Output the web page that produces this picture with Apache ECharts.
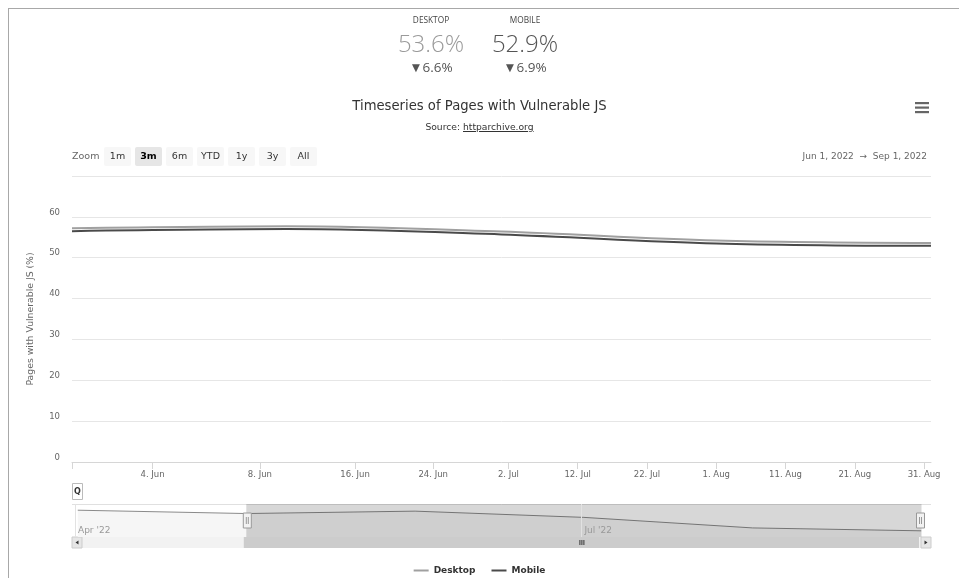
<!DOCTYPE html>
<html>
<head>
<meta charset="utf-8">
<title>Timeseries of Pages with Vulnerable JS</title>
<script src="https://cdn.jsdelivr.net/npm/echarts@6.0.0/dist/echarts.min.js"></script>
<style>
  html, body { margin: 0; padding: 0; background: #fff; }
  #c { position: absolute; left: 0; top: 0; width: 959px; height: 578px; }
  #frame { position: absolute; left: 8px; top: 8px; width: 951px; height: 570px; border-top: 1px solid #a8a8a8; border-left: 1px solid #a8a8a8; box-sizing: border-box; pointer-events: none; }
  #sub { position: absolute; left: 0; top: 121px; width: 959px; text-align: center; font-family: "DejaVu Sans", sans-serif; font-size: 9.2px; color: #333; }
  #sub u { color: #333; }
</style>
</head>
<body>
<div id="c"></div>
<div id="frame"></div>
<div id="sub">Source: <u>httparchive.org</u></div>
<script>
// ---- data ----
const dates = ['2022-04-01', '2022-06-01', '2022-06-09', '2022-07-01', '2022-08-01', '2022-09-01'];
const desktop = [57.9, 57.2, 57.7, 56.4, 54.2, 53.6];
const mobile = [57.2, 56.5, 57.0, 55.7, 53.5, 52.9];
const seriesNames = ['Desktop', 'Mobile'];
const xTickDates = ['2022-06-04', '2022-06-08', '2022-06-16', '2022-06-24', '2022-07-02', '2022-07-12', '2022-07-22', '2022-08-01', '2022-08-11', '2022-08-21', '2022-08-31'];
const navTickDates = ['2022-04-01', '2022-07-01'];
const viewStart = '2022-06-01';
const viewEnd = '2022-09-01';
const kpiLabels = ['DESKTOP', 'MOBILE'];
const kpiValues = ['53.6%', '52.9%'];
const kpiChanges = ['\u25BC6.6%', '\u25BC6.9%'];
const zoomButtons = ['1m', '3m', '6m', 'YTD', '1y', '3y', 'All'];
const zoomSelected = '3m';
const rangeText = 'Jun 1, 2022  \u2192  Sep 1, 2022';

// ---- ordinal (index-based) x scale helpers ----
const T = dates.map(d => Date.parse(d + 'T00:00:00Z'));
function ord(d) {
  const t = Date.parse(d + 'T00:00:00Z');
  for (let i = 0; i < T.length - 1; i++) {
    if (t <= T[i + 1]) return i + (t - T[i]) / (T[i + 1] - T[i]);
  }
  return T.length - 1;
}
function unord(v) {
  const i = Math.max(0, Math.min(Math.floor(v), T.length - 2));
  return T[i] + (v - i) * (T[i + 1] - T[i]);
}
const MON = ['Jan', 'Feb', 'Mar', 'Apr', 'May', 'Jun', 'Jul', 'Aug', 'Sep', 'Oct', 'Nov', 'Dec'];
function toDate(v) { return new Date(Math.round(unord(v) / 864e5) * 864e5); }
function fmtDay(v) { const d = toDate(v); return d.getUTCDate() + '. ' + MON[d.getUTCMonth()]; }
function fmtMonth(v) { const d = toDate(v); return MON[d.getUTCMonth()] + " '" + String(d.getUTCFullYear()).slice(2); }

const FONT = '"DejaVu Sans", sans-serif';
const COLORS = ['#a0a0a0', '#4a4a4a'];
const KPI_COLORS = ['#9a9a9a', '#555555'];

const chart = echarts.init(document.getElementById('c'), null, { renderer: 'canvas' });

const xTicks = xTickDates.map(ord);
const navTicks = navTickDates.map(ord);

function buildGraphic(scroll) {
  const g = [];
  // KPI blocks
  const kx = [431, 525];
  kpiLabels.forEach((lab, i) => {
    g.push({ type: 'text', x: kx[i], y: 21, style: { text: lab, fill: '#444', font: '8.3px "Open Sans", sans-serif', align: 'center', verticalAlign: 'middle' } });
    g.push({ type: 'text', x: kx[i], y: 45, style: { text: kpiValues[i], fill: KPI_COLORS[i], font: '300 24px "Open Sans", sans-serif', align: 'center', verticalAlign: 'middle' } });
    g.push({ type: 'text', x: kx[i], y: 68, style: { text: kpiChanges[i], fill: '#555', font: '13.5px "Open Sans", sans-serif', align: 'center', verticalAlign: 'middle' } });
  });
  // hamburger
  [103, 107.5, 112].forEach(y => g.push({ type: 'rect', shape: { x: 915, y: y - 1, width: 14, height: 2.2 }, style: { fill: '#666' } }));
  // zoom label and buttons
  g.push({ type: 'text', x: 72, y: 157, style: { text: 'Zoom', fill: '#666', font: '9.5px ' + FONT, verticalAlign: 'middle' } });
  zoomButtons.forEach((b, i) => {
    const x = 104 + i * 31;
    const sel = b === zoomSelected;
    g.push({ type: 'rect', shape: { x: x, y: 147, width: 27, height: 19, r: 2 }, style: { fill: sel ? '#e6e6e6' : '#f7f7f7' } });
    g.push({ type: 'text', x: x + 13.5, y: 157, style: { text: b, fill: sel ? '#000' : '#333', font: (sel ? 'bold ' : '') + '9.5px ' + FONT, align: 'center', verticalAlign: 'middle' } });
  });
  // range text
  g.push({ type: 'text', x: 927, y: 157, style: { text: rangeText, fill: '#666', font: '9px ' + FONT, align: 'right', verticalAlign: 'middle' } });
  // Q box
  g.push({ type: 'rect', shape: { x: 72.5, y: 483.5, width: 10, height: 16 }, style: { fill: '#fff', stroke: '#bbb', lineWidth: 1 } });
  g.push({ type: 'text', x: 77.5, y: 492, style: { text: 'Q', fill: '#333', font: 'bold 8px ' + FONT, align: 'center', verticalAlign: 'middle' } });
  // navigator top outline
  g.push({ type: 'line', shape: { x1: 72, y1: 504.5, x2: 931, y2: 504.5 }, style: { stroke: '#e0e0e0', lineWidth: 1 } });
  // scrollbar
  if (scroll) {
    const y = 537, h = 11;
    g.push({ type: 'rect', shape: { x: 72, y: y, width: 859, height: h }, style: { fill: '#f2f2f2' } });
    g.push({ type: 'rect', shape: { x: scroll[0], y: y, width: scroll[1] - scroll[0], height: h }, style: { fill: '#cccccc' } });
    const mid = (scroll[0] + scroll[1]) / 2;
    [-2, 0, 2].forEach(d => g.push({ type: 'line', shape: { x1: mid + d + 0.5, y1: y + 3, x2: mid + d + 0.5, y2: y + 8 }, style: { stroke: '#333', lineWidth: 1 } }));
    g.push({ type: 'rect', shape: { x: 72, y: y, width: 10, height: h }, style: { fill: '#e6e6e6', stroke: '#cccccc', lineWidth: 1 } });
    g.push({ type: 'polygon', shape: { points: [[75.5, y + 5.5], [78.5, y + 3.5], [78.5, y + 7.5]] }, style: { fill: '#333' } });
    g.push({ type: 'rect', shape: { x: 921, y: y, width: 10, height: h }, style: { fill: '#e6e6e6', stroke: '#cccccc', lineWidth: 1 } });
    g.push({ type: 'polygon', shape: { points: [[927.5, y + 5.5], [924.5, y + 3.5], [924.5, y + 7.5]] }, style: { fill: '#333' } });
  }
  return g;
}

const option = {
  backgroundColor: '#fff',
  animation: false,
  color: COLORS,
  textStyle: { fontFamily: FONT },
  title: {
    text: 'Timeseries of Pages with Vulnerable JS',
    left: 'center', top: 95,
    textStyle: { fontFamily: FONT, fontSize: 13.2, fontWeight: 'normal', color: '#333' }
  },
  legend: {
    data: seriesNames,
    top: 561, left: 'center',
    icon: 'rect', itemWidth: 15, itemHeight: 2, itemGap: 16,
    textStyle: { fontFamily: FONT, fontSize: 9, fontWeight: 'bold', color: '#333' }
  },
  grid: [
    { left: 72, top: 176, width: 859, height: 286, containLabel: false },
    { left: 75, top: 504, width: 844, height: 33, containLabel: false }
  ],
  xAxis: [
    {
      type: 'value', gridIndex: 0, min: 0, max: dates.length - 1,
      axisLine: { show: true, lineStyle: { color: '#d6d6d6' } },
      axisTick: { show: true, customValues: [ord(viewStart)].concat(xTicks), length: 7, lineStyle: { color: '#d6d6d6' } },
      axisLabel: { customValues: xTicks, formatter: v => fmtDay(v), color: '#666', fontSize: 8.5, fontFamily: FONT, margin: 8 },
      splitLine: { show: false }
    },
    {
      type: 'value', gridIndex: 1, min: 0, max: dates.length - 1, z: 10,
      axisLine: { show: false },
      axisTick: { show: true, customValues: navTicks, inside: true, length: 33, lineStyle: { color: '#e2e2e2' } },
      axisLabel: { customValues: navTicks, inside: true, formatter: v => fmtMonth(v), color: '#999', fontSize: 9, fontFamily: FONT, align: 'left', margin: 2, padding: [0, 0, 0, 3] },
      splitLine: { show: false }
    }
  ],
  yAxis: [
    {
      type: 'value', gridIndex: 0, min: 0, max: 70, interval: 10,
      name: 'Pages with Vulnerable JS (%)', nameLocation: 'middle', nameGap: 37,
      nameTextStyle: { fontFamily: FONT, fontSize: 9.3, color: '#666' },
      axisLine: { show: false }, axisTick: { show: false },
      axisLabel: { formatter: v => (v === 70 ? '' : String(v)), color: '#666', fontSize: 8.5, fontFamily: FONT, margin: 12, verticalAlign: 'bottom' },
      splitLine: { lineStyle: { color: '#e6e6e6' } }
    },
    { type: 'value', gridIndex: 1, min: 0, max: 1, show: false }
  ],
  dataZoom: [{
    type: 'slider', xAxisIndex: 0,
    left: 75, width: 844, top: 504, height: 33,
    startValue: ord(viewStart), endValue: ord(viewEnd),
    filterMode: 'filter',
    backgroundColor: 'rgba(0,0,0,0)',
    borderColor: 'transparent',
    fillerColor: 'rgba(0,0,0,0.155)',
    showDetail: false, brushSelect: false, showDataShadow: true,
    moveHandleSize: 0,
    dataBackground: { lineStyle: { color: '#8a8a8a', width: 1, opacity: 1 }, areaStyle: { color: '#f6f6f6', opacity: 1 } },
    selectedDataBackground: { lineStyle: { color: '#8a8a8a', width: 1, opacity: 1 }, areaStyle: { color: '#f6f6f6', opacity: 1 } },
    handleIcon: 'path://M0,0 L8,0 L8,15 L0,15 Z M3,4 L3,11 M5,4 L5,11',
    handleSize: 15,
    handleStyle: { color: '#f2f2f2', borderColor: '#999', borderWidth: 1 },
    emphasis: { handleStyle: { color: '#f2f2f2', borderColor: '#999' } },
    labelFormatter: () => ''
  }],
  series: [
    {
      name: seriesNames[0], type: 'line', xAxisIndex: 0, yAxisIndex: 0,
      data: desktop.map((v, i) => [i, v]),
      smooth: 0.35, symbol: 'none', lineStyle: { width: 2, color: COLORS[0] }, z: 3
    },
    {
      name: seriesNames[1], type: 'line', xAxisIndex: 0, yAxisIndex: 0,
      data: mobile.map((v, i) => [i, v]),
      smooth: 0.35, symbol: 'none', lineStyle: { width: 2, color: COLORS[1] }, z: 2
    }
  ],
  graphic: buildGraphic(null)
};

chart.setOption(option);
const sx0 = chart.convertToPixel({ xAxisIndex: 1 }, ord(viewStart));
const sx1 = chart.convertToPixel({ xAxisIndex: 1 }, ord(viewEnd));
chart.setOption({ graphic: buildGraphic([sx0, sx1]) }, { replaceMerge: ['graphic'] });
</script>
</body>
</html>
